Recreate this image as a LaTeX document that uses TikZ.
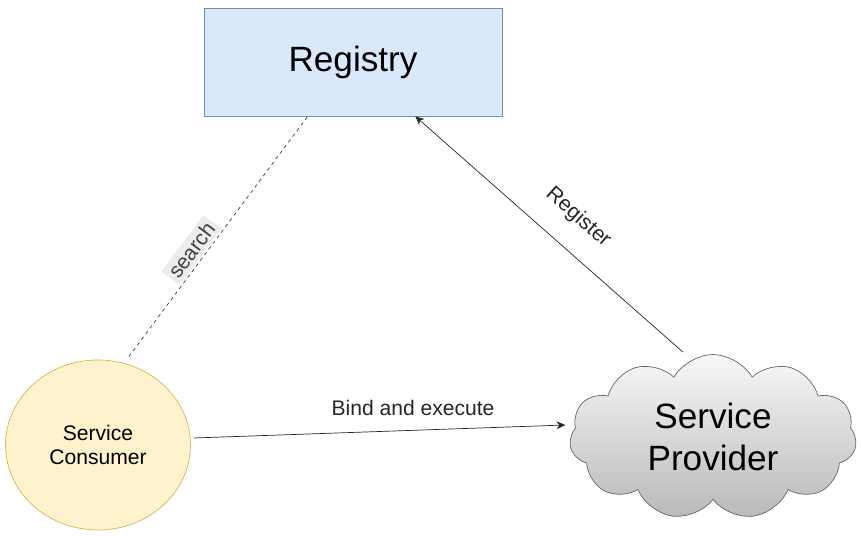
\documentclass[tikz,border=0pt]{standalone}
\usepackage{fontspec}
\setmainfont{Liberation Sans}
\usetikzlibrary{arrows.meta,shapes.geometric,shapes.symbols}
\definecolor{regfill}{HTML}{DAE8FC}
\definecolor{regline}{HTML}{6C8EBF}
\definecolor{confill}{HTML}{FFF2CC}
\definecolor{conline}{HTML}{D6B656}
\definecolor{cloudline}{HTML}{666666}
\begin{document}
\begin{tikzpicture}[x=0.02cm,y=0.02cm,
  big/.style={font=\fontsize{20}{24}\selectfont},
  small/.style={font=\fontsize{12}{14}\selectfont},
  arr/.style={-{Stealth[length=5pt,width=4.5pt]},black!85}]
\useasboundingbox (0,0) rectangle (861,536);
\node[draw=regline,fill=regfill,minimum width=5.96cm,minimum height=2.16cm,big](registry) at (353,474){Registry};
\node[ellipse,draw=conline,fill=confill,minimum width=3.7cm,minimum height=3.4cm,small,align=center](consumer) at (98,91){Service\\Consumer};
\node[cloud,cloud puffs=11,cloud puff arc=120,aspect=1.75,draw=cloudline,top color=gray!6,bottom color=gray!55,
  minimum width=5.74cm,minimum height=3.3cm,big,align=center](provider) at (713,99){Service\\Provider};

\draw[arr]([shift={(3,7)}]consumer.east)--node[pos=0.59,above=5pt,small]{Bind and execute}([shift={(-5,12)}]provider.west);
\draw[arr]([shift={(-30,2)}]provider.north)--node[pos=0.47,sloped,above=9pt,small]{Register}([shift={(-87,0)}]registry.south east);
\draw[dash pattern=on 2pt off 2pt,black!75]([shift={(0,8)}]consumer.69)--node[pos=0.41,sloped,above=1pt,small,fill=gray!15,inner sep=2pt]{search}([shift={(104,0)}]registry.south west);
\end{tikzpicture}
\end{document}
